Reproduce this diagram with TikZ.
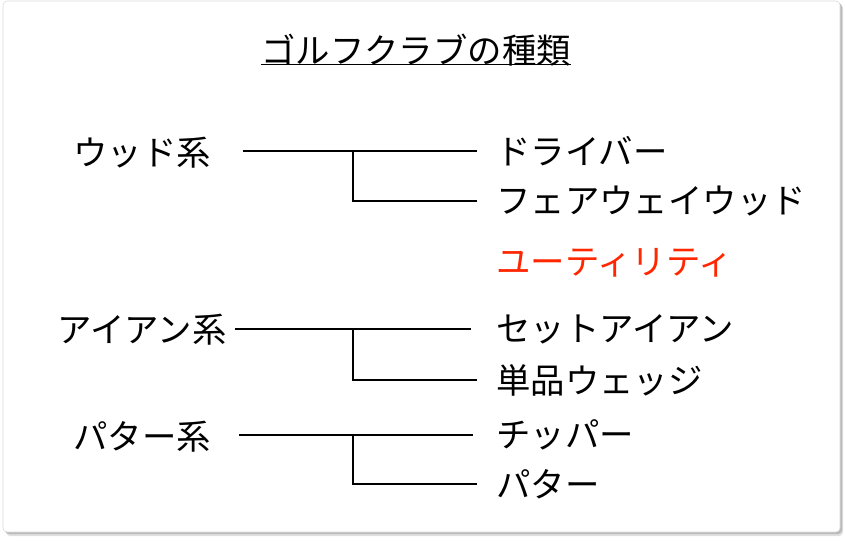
\documentclass[tikz,border=0pt]{standalone}
\usepackage{fontspec}
\setmainfont{Noto Sans CJK JP}
\usepackage{xcolor}
\usetikzlibrary{positioning}
\definecolor{utilred}{RGB}{255,38,0}
\tikzset{
  titlenode/.style={inner sep=0pt,font=\fontsize{25.8}{30}\selectfont},
  groupnode/.style={inner sep=0pt,font=\fontsize{25.8}{30}\selectfont},
  clubnode/.style={anchor=west,inner sep=0pt,font=\fontsize{25.8}{30}\selectfont},
  branchedge/.style={line width=1.2pt,black},
  junction/.style={coordinate}
}
\begin{document}
\begin{tikzpicture}[x=0.75pt,y=-0.75pt]
  \useasboundingbox (0,0) rectangle (845,540);
  % card
  \fill[gray!25,rounded corners=3pt] (6,4) rectangle (843,536);
  \fill[gray!55,rounded corners=3pt] (5,3) rectangle (842,534);
  \draw[gray!30,fill=white,rounded corners=3pt] (3,1) rectangle (840,532);

  \node[titlenode] (title) at (416,50) {ゴルフクラブの種類};
  \draw[line width=1pt] (title.south west) ++(0,-2) coordinate (ul0)
    (title.south east) ++(0,-2) coordinate (ul1);
  \draw[line width=1pt] (ul0) -- (ul1);

  \node[groupnode] (wood) at (142,153) {ウッド系};
  \node[groupnode] (iron) at (142,330) {アイアン系};
  \node[groupnode] (putt) at (142,437) {パター系};

  \node[clubnode] (driver) at (496,151) {ドライバー};
  \node[clubnode] (fairway) at (496,201) {フェアウェイウッド};
  \node[clubnode,text=utilred] (util) at (496,263) {ユーティリティ};
  \node[clubnode] (ironset) at (496,329) {セットアイアン};
  \node[clubnode] (wedge) at (496,380) {単品ウェッジ};
  \node[clubnode] (chipper) at (496,435) {チッパー};
  \node[clubnode] (putter) at (496,484) {パター};

  \node[junction] (w0) at (243,151) {};
  \node[junction] (w1) at (353,151) {};
  \node[junction] (i0) at (235,329) {};
  \node[junction] (i1) at (353,329) {};
  \node[junction] (p0) at (239,435) {};
  \node[junction] (p1) at (353,435) {};

  \draw[branchedge,shorten >=14pt] (w0) -- (driver.west);
  \draw[branchedge,shorten >=14pt] (w1) |- (fairway.west);
  \draw[branchedge,shorten >=19pt] (i0) -- (ironset.west);
  \draw[branchedge,shorten >=14pt] (i1) |- (wedge.west);
  \draw[branchedge,shorten >=17pt] (p0) -- (chipper.west);
  \draw[branchedge,shorten >=14pt] (p1) |- (putter.west);
\end{tikzpicture}
\end{document}
